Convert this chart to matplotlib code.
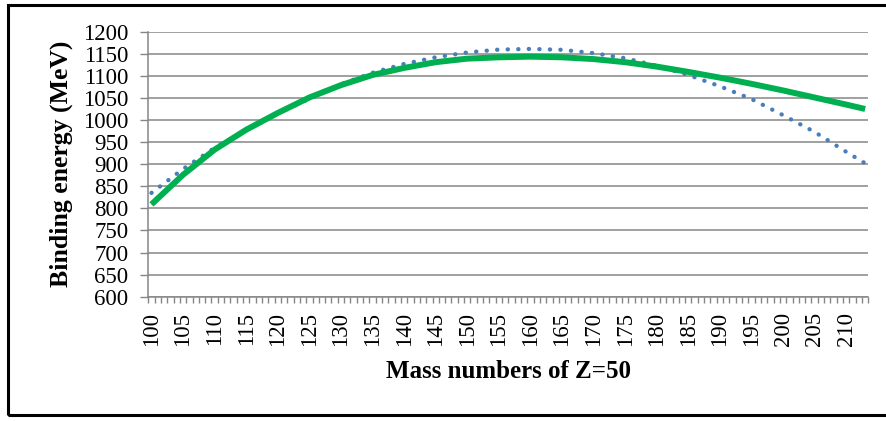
import numpy as np
import matplotlib
matplotlib.use("Agg")
import matplotlib.pyplot as plt
from matplotlib.patches import Rectangle

# mass numbers (every 5th category + last one)
mass = [100, 105, 110, 115, 120, 125, 130, 135, 140, 145, 150, 155,
        160, 165, 170, 175, 180, 185, 190, 195, 200, 205, 210, 213]

# dotted blue series (MeV)
be_dotted = [835, 889, 937, 978, 1015, 1048, 1081, 1107, 1127, 1142, 1153, 1159.5,
             1161, 1159, 1151.5, 1140, 1123, 1102, 1076.5, 1047.5, 1011, 973, 928, 902]

# solid green series (MeV)
be_solid = [809, 876, 933, 978, 1016, 1051, 1079, 1102, 1118, 1131, 1139, 1142,
            1143.5, 1142, 1138, 1131, 1121, 1109, 1096, 1082, 1067, 1051, 1035, 1025]

first_cat, last_cat = 100, 213
tick_labels = list(range(100, 211, 5))
y_ticks = list(range(600, 1201, 50))

plt.rcParams["font.family"] = ["Liberation Serif", "DejaVu Serif"]

W, H = 886, 421
fig = plt.figure(figsize=(W / 100, H / 100), dpi=100)
ax = fig.add_axes([148.3 / W, 1 - 296.7 / H, (868.3 - 148.3) / W, (296.7 - 31.7) / H])

grey = "#868686"

# blue dotted first, green drawn on top
ax.plot(mass, be_dotted, color="#4A7EBB", lw=3.1,
        linestyle=(0, (0.05, 2.4)), dash_capstyle="round", zorder=3)
ax.plot(mass, be_solid, color="#00B050", lw=4.3,
        solid_capstyle="butt", solid_joinstyle="round", zorder=4)

ax.set_xlim(first_cat - 0.5, last_cat + 0.5)
ax.set_ylim(600, 1200)

ax.set_yticks(y_ticks)
ax.set_yticklabels([str(v) for v in y_ticks], fontsize=16.5)
ax.tick_params(axis="y", direction="out", length=5.5, width=1, color=grey, pad=9)

ax.set_xticks(tick_labels)
ax.set_xticklabels([str(v) for v in tick_labels], rotation=90, fontsize=16.5)
ax.tick_params(axis="x", which="major", length=0, pad=11)
ax.set_xticks(np.arange(first_cat - 0.5, last_cat + 1.0, 1.0), minor=True)
ax.tick_params(axis="x", which="minor", direction="out", length=4, width=1, color=grey)

ax.yaxis.grid(True, color=grey, lw=1.1)
ax.set_axisbelow(True)
for side in ["top", "right"]:
    ax.spines[side].set_visible(False)
for side in ["left", "bottom"]:
    ax.spines[side].set_color(grey)
    ax.spines[side].set_linewidth(1.1)

ax.set_ylabel("Binding energy (MeV)", fontsize=18.5, fontweight="bold", labelpad=7)
ax.set_xlabel("Mass numbers of Z=50", fontsize=18, fontweight="bold", labelpad=10)

# outer frame (right edge falls outside the picture)
fig.patches.append(Rectangle((8 / W, 1 - 415 / H), (W + 10 - 8) / W, (415 - 5) / H,
                             transform=fig.transFigure, fill=False,
                             edgecolor="black", lw=2.2))

fig.savefig("out.png", dpi=100)
